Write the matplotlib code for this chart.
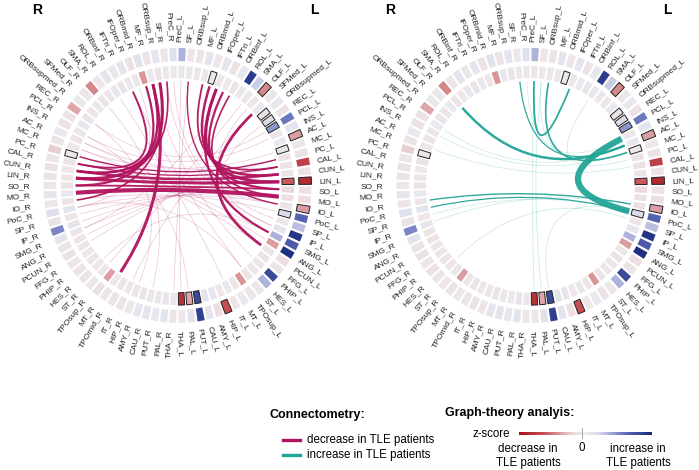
import numpy as np
import matplotlib
matplotlib.use("Agg")
import matplotlib.pyplot as plt
from matplotlib.path import Path
from matplotlib.patches import PathPatch, Wedge
from matplotlib.colors import LinearSegmentedColormap
from matplotlib.lines import Line2D

plt.rcParams['font.family'] = ['Liberation Sans', 'DejaVu Sans']

# region labels, from the top of the circle downwards
regions_R = ["PreC_R", "SF_R", "ORBsup_R", "MF_R", "ORBmid_R", "IFOper_R", "IFTri_R",
             "ORBinf_R", "ROL_R", "SMA_R", "OLF_R", "SFMed_R", "ORBsupmed_R", "REC_R",
             "PCL_R", "INS_R", "AC_R", "MC_R", "PC_R", "CAL_R", "CUN_R", "LIN_R", "SO_R",
             "MO_R", "IO_R", "PoC_R", "SP_R", "IP_R", "SMG_R", "ANG_R", "PCUN_R", "FFG_R",
             "PHIP_R", "HES_R", "ST_R", "TPOsup_R", "MT_R", "TPOmid_R", "IT_R", "HIP_R",
             "AMY_R", "CAU_R", "PUT_R", "PAL_R", "THA_R"]
regions_L = ["PreC_L", "SF_L", "ORBsup_L", "MF_L", "ORBmid_L", "IFOper_L", "IFTri_L",
             "ORBinf_L", "ROL_L", "SMA_L", "OLF_L", "SFMed_L", "ORBsupmed_L", "REC_L",
             "PCL_L", "INS_L", "AC_L", "MC_L", "PC_L", "CAL_L", "CUN_L", "LIN_L", "SO_L",
             "MO_L", "IO_L", "PoC_L", "SP_L", "IP_L", "SMG_L", "ANG_L", "PCUN_L", "FFG_L",
             "PHIP_L", "HES_L", "ST_L", "TPOsup_L", "MT_L", "IT_L", "HIP_L", "AMY_L",
             "CAU_L", "PUT_L", "PAL_L", "THA_L"]

# graph-theory z-scores (negative = decrease, positive = increase)
outer_R = [0.15, -0.06, 0.10, -0.08, 0.12, -0.10, 0.08, -0.05, 0.10, -0.06,
           -0.45, -0.05, 0.06, -0.35, -0.08, -0.10, 0.05, -0.08, -0.22, -0.06,
           -0.10, -0.08, -0.05, 0.08, -0.06, 0.15, -0.08, 0.50, 0.10, -0.08,
           -0.10, -0.06, -0.10, -0.08, -0.06, -0.10, -0.05, -0.08, -0.10, -0.05,
           0.08, 0.10, 0.06, 0.10, -0.06]
inner_R = [-0.06, 0.05, -0.08, 0.06, -0.40, -0.06, 0.05, -0.08, 0.06, -0.06,
           -0.08, 0.05, -0.06, -0.08, 0.05, -0.06, -0.08, -0.05, -0.05, -0.08,
           -0.06, -0.05, -0.08, 0.06, -0.06, 0.10, -0.06, 0.08, -0.06, -0.08,
           -0.05, -0.06, -0.08, -0.06, -0.05, -0.38, -0.06, -0.08, -0.05, -0.06,
           -0.08, 0.06, -0.05, 0.08, -0.06]
outer_L = [0.35, -0.06, -0.08, 0.10, -0.06, 0.08, -0.08, 0.06, 0.88, 0.25,
           -0.45, -0.06, 0.06, -0.08, 0.55, 0.10, -0.38, -0.06, -0.10, -0.72,
           -0.08, -0.85, -0.10, -0.12, -0.38, 0.65, 0.30, 0.92, 0.70, 0.95,
           -0.12, -0.08, 0.80, 0.35, -0.06, -0.08, 0.05, -0.06, -0.65, -0.12,
           0.10, 0.85, 0.12, -0.06]
inner_L = [-0.05, 0.05, -0.06, 0.06, 0.05, -0.06, 0.05, -0.08, 0.06, -0.06,
           -0.05, 0.05, -0.10, 0.20, 0.45, -0.06, 0.05, -0.05, -0.08, -0.10,
           -0.08, -0.60, -0.15, -0.12, -0.08, 0.20, -0.06, 0.08, 0.35, -0.38,
           -0.06, -0.08, -0.06, -0.05, -0.08, -0.40, -0.06, 0.05, -0.06, 0.08,
           0.10, 0.80, -0.35, -0.80]
sig_outer = ["OLF_L", "AC_L", "LIN_L", "IO_L", "HIP_L"]
sig_inner = ["PC_R", "ORBmid_L", "ORBsupmed_L", "REC_L", "PCL_L", "MC_L", "LIN_L",
             "PoC_L", "PUT_L", "PAL_L", "THA_L"]

# connectometry: (region a, region b, line width)
dec_edges = [("MO_R", "MO_L", 3.0), ("LIN_R", "LIN_L", 2.2), ("CUN_R", "CUN_L", 1.8),
             ("SO_R", "SO_L", 1.3), ("LIN_R", "ORBsup_R", 2.2), ("CUN_R", "MF_R", 1.8),
             ("SO_R", "ORBmid_R", 1.6), ("CAL_R", "IFTri_R", 1.4), ("LIN_L", "IFOper_L", 2.2),
             ("CUN_L", "ORBmid_L", 1.8), ("SO_L", "IFTri_L", 1.6), ("CAL_L", "MF_L", 1.3),
             ("SFMed_L", "PCUN_L", 2.0), ("MF_R", "MT_R", 2.2), ("IFOper_L", "SMG_L", 1.6),
             ("ORBsup_R", "IO_R", 1.2), ("MO_L", "ORBinf_L", 1.2), ("PC_R", "PC_L", 1.0),
             ("CAL_R", "CAL_L", 0.9), ("SF_R", "CUN_R", 1.2), ("SF_L", "IO_L", 1.0)]
dec_thin = [("PreC_R", "SP_L"), ("SF_R", "IP_L"), ("MF_R", "PHIP_L"), ("IFTri_R", "ST_L"),
            ("ROL_R", "IT_L"), ("OLF_R", "CAU_R"), ("REC_R", "HIP_R"), ("INS_R", "PAL_L"),
            ("AC_R", "SMG_L"), ("MC_R", "ANG_L"), ("PC_R", "PCUN_L"), ("CAL_R", "IO_L"),
            ("IO_R", "PoC_L"), ("PoC_R", "IO_L"), ("SP_R", "MO_L"), ("IP_R", "SO_L"),
            ("SMG_R", "CUN_L"), ("ANG_R", "CAL_L"), ("PCUN_R", "PC_L"),
            ("IT_R", "SFMed_L"), ("THA_R", "SF_L"), ("PreC_L", "THA_L"),
            ("IFTri_L", "SMG_R"), ("SMA_L", "ST_R"), ("MF_R", "CAL_R"), ("IFOper_R", "PoC_R"),
            ("OLF_L", "IP_L"), ("REC_L", "SMG_L"), ("PoC_R", "ST_L"), ("SMG_L", "HES_R"),
            ("MC_R", "MC_L"), ("INS_R", "INS_L"), ("AC_R", "PC_L"), ("REC_R", "PCL_L")]

inc_edges = [("INS_L", "PoC_L", 4.5), ("OLF_R", "AC_L", 1.8), ("PreC_L", "IFOper_L", 1.3),
             ("ORBsup_L", "MC_L", 1.2), ("IO_R", "IO_L", 1.0), ("PoC_R", "PoC_L", 0.9),
             ("SF_R", "AC_L", 0.9)]
inc_thin = [("PCL_R", "AC_L"), ("ROL_L", "PC_L"), ("SF_L", "MC_L"), ("PreC_R", "INS_L"),
            ("IP_R", "IO_L"), ("HES_R", "SP_L"), ("SP_R", "PoC_L"), ("PUT_L", "PoC_L"),
            ("THA_L", "PreC_L"), ("PAL_L", "SF_L"), ("INS_R", "MC_L"), ("MC_R", "CAL_L")]

c_dec = "#B0145E"
c_inc = "#23A597"
cmap = LinearSegmentedColormap.from_list(
    "z", [(0.0, "#A30F1A"), (0.2, "#C9585A"), (0.4, "#EAD5D8"), (0.5, "#EEECEF"),
          (0.6, "#DADCEC"), (0.8, "#5E6CB8"), (1.0, "#17277A")])

ang = {}
for i, n in enumerate(regions_R):
    ang[n] = -(2 + 4 * i)
for j, n in enumerate(regions_L):
    ang[n] = 2 + j * 176 / 43

vals_outer = dict(zip(regions_R + regions_L, outer_R + outer_L))
vals_inner = dict(zip(regions_R + regions_L, inner_R + inner_L))

W, H = 699, 470
fig = plt.figure(figsize=(W / 100, H / 100), dpi=100)

RX, RY = 134, 137.5   # px per unit radius
EXT = 1.5
LAB_R, LAB_DX, LAB_DY = 144.5, -3, 1   # label circle, px


def pos(name, r):
    phi = np.deg2rad(90 - ang[name])
    return r * np.cos(phi), r * np.sin(phi)


def panel(cx, cy, edges, thin, color):
    ax = fig.add_axes([(cx - EXT * RX) / W, 1 - (cy + EXT * RY) / H,
                       2 * EXT * RX / W, 2 * EXT * RY / H])
    ax.set_xlim(-EXT, EXT)
    ax.set_ylim(-EXT, EXT)
    ax.axis("off")
    for n in regions_R + regions_L:
        phi = 90 - ang[n]
        for (r0, r1, vals, sig) in [(0.905, 1.0, vals_outer, sig_outer),
                                    (0.78, 0.87, vals_inner, sig_inner)]:
            v = vals[n]
            w = Wedge((0, 0), r1, phi - 1.55, phi + 1.55, width=r1 - r0,
                      facecolor=cmap((v + 1) / 2),
                      edgecolor="#222222" if n in sig else "none", lw=0.7)
            ax.add_patch(w)
        x = (LAB_DX + LAB_R * np.cos(np.deg2rad(phi))) / RX
        y = (-LAB_DY + LAB_R * np.sin(np.deg2rad(phi))) / RY
        if ang[n] > 0:
            ax.text(x, y, n, rotation=phi, ha="left", va="center",
                    rotation_mode="anchor", fontsize=6.0, color="#222222")
        else:
            ax.text(x, y, n, rotation=phi + 180, ha="right", va="center",
                    rotation_mode="anchor", fontsize=6.0, color="#222222")
    for a, b in thin:
        p0, p2 = pos(a, 0.76), pos(b, 0.76)
        path = Path([p0, (0, 0), p2], [Path.MOVETO, Path.CURVE3, Path.CURVE3])
        ax.add_patch(PathPatch(path, fc="none", ec=color, lw=0.5, alpha=0.25))
    for a, b, lw in edges:
        p0, p2 = pos(a, 0.76), pos(b, 0.76)
        path = Path([p0, (0, 0), p2], [Path.MOVETO, Path.CURVE3, Path.CURVE3])
        ax.add_patch(PathPatch(path, fc="none", ec=color, lw=lw, alpha=0.95,
                               capstyle="butt"))
    fig.text((cx - 140.5) / W, 1 - 10 / H, "R", fontsize=10, fontweight="bold",
             ha="center", va="center")
    fig.text((cx + 137) / W, 1 - 10 / H, "L", fontsize=10, fontweight="bold",
             ha="center", va="center")


panel(177.5, 185.5, dec_edges, dec_thin, c_dec)
panel(530.5, 185.5, inc_edges, inc_thin, c_inc)

# legend: connectometry
fig.text(270 / W, 1 - 415 / H, "Connectometry:", fontsize=9, fontweight="bold",
         ha="left", va="center")
for yy, col, txt in [(440, c_dec, "decrease in TLE patients"),
                     (455, c_inc, "increase in TLE patients")]:
    fig.add_artist(Line2D([283 / W, 300 / W], [1 - yy / H, 1 - yy / H], color=col,
                          lw=2.4, transform=fig.transFigure))
    fig.text(307 / W, 1 - yy / H, txt, fontsize=8.3, ha="left", va="center")

# legend: graph theory
fig.text(445 / W, 1 - 413 / H, "Graph-theory analyis:", fontsize=9, fontweight="bold",
         ha="left", va="center")
fig.text(510 / W, 1 - 434 / H, "z-score", fontsize=8.3, ha="right", va="center")
cax = fig.add_axes([519 / W, 1 - 435.5 / H, 133 / W, 3.5 / H])
cax.imshow(np.linspace(-1, 1, 256)[None, :], cmap=cmap, aspect="auto",
           extent=[-1, 1, 0, 1])
cax.axis("off")
fig.add_artist(Line2D([582 / W, 582 / W], [1 - 428 / H, 1 - 438 / H], color="#999999",
                      lw=0.6, transform=fig.transFigure))
fig.text(582 / W, 1 - 448 / H, "0", fontsize=8.3, ha="center", va="center")
fig.text(528 / W, 1 - 456 / H, "decrease in\nTLE patients", fontsize=8.3, ha="center",
         va="center", linespacing=1.2)
fig.text(638 / W, 1 - 456 / H, "increase in\nTLE patients", fontsize=8.3, ha="center",
         va="center", linespacing=1.2)

fig.savefig("out.png", dpi=100)
